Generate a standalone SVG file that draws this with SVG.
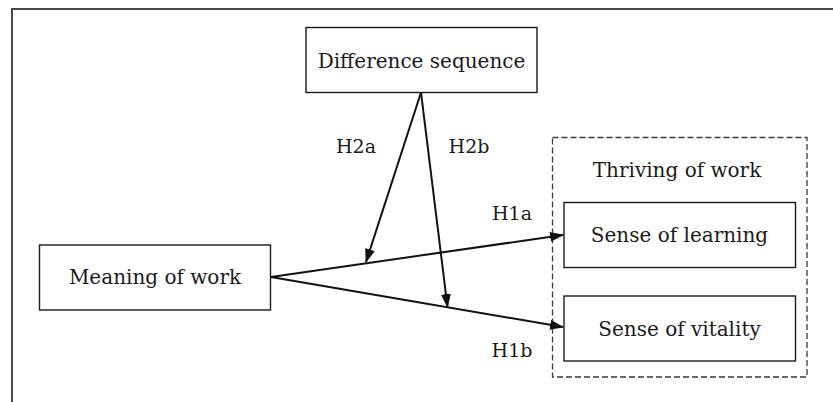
<svg xmlns="http://www.w3.org/2000/svg" width="833" height="402" viewBox="0 0 833 402">
  <style>
    .box { fill: #ffffff; stroke: #1a1a1a; stroke-width: 1.4; }
    .label { font-family: "DejaVu Serif", "Liberation Serif", serif; font-size: 20px; fill: #1a1a1a; text-anchor: middle; }
    .tag { font-family: "DejaVu Serif", "Liberation Serif", serif; font-size: 19px; fill: #1a1a1a; text-anchor: middle; }
    .edge { stroke: #111111; stroke-width: 2; fill: none; marker-end: url(#arrow); }
    .group { fill: none; stroke: #3a3a3a; stroke-width: 1.3; stroke-dasharray: 6 3; }
    .frame { stroke: #4a4a4a; stroke-width: 2; fill: none; }
  </style>
  <defs>
    <marker id="arrow" markerUnits="userSpaceOnUse" markerWidth="14" markerHeight="10" refX="13" refY="5" orient="auto">
      <path d="M0,0 L14,5 L0,10 Z" fill="#111111"/>
    </marker>
  </defs>

  <rect width="833" height="402" fill="#ffffff"/>

  <!-- outer frame: left and top rules -->
  <path class="frame" d="M12,402 L12,9 L833,9"/>

  <!-- dashed outline grouping the two outcome boxes -->
  <g id="thriving-of-work">
    <rect class="group" x="552.5" y="137.5" width="254.5" height="239.5"/>
    <text class="label" x="677" y="177">Thriving of work</text>
  </g>

  <g id="difference-sequence">
    <rect class="box" x="306" y="27.5" width="231" height="65"/>
    <text class="label" x="421.5" y="67.5">Difference sequence</text>
  </g>

  <g id="meaning-of-work">
    <rect class="box" x="39.5" y="245" width="231" height="65"/>
    <text class="label" x="155" y="284">Meaning of work</text>
  </g>

  <g id="sense-of-learning">
    <rect class="box" x="564" y="202.5" width="231.5" height="65"/>
    <text class="label" x="679.5" y="242">Sense of learning</text>
  </g>

  <g id="sense-of-vitality">
    <rect class="box" x="564" y="296" width="231.5" height="65"/>
    <text class="label" x="679.5" y="335.5">Sense of vitality</text>
  </g>

  <g id="connectors">
    <line class="edge" x1="271" y1="277" x2="563" y2="235"/>
    <line class="edge" x1="271" y1="277" x2="563" y2="327"/>
    <line class="edge" x1="421" y1="92.5" x2="366" y2="262"/>
    <line class="edge" x1="421" y1="92.5" x2="447.5" y2="307"/>
    <text class="tag" x="356" y="153">H2a</text>
    <text class="tag" x="469" y="153">H2b</text>
    <text class="tag" x="512" y="220">H1a</text>
    <text class="tag" x="512" y="357">H1b</text>
  </g>
</svg>
